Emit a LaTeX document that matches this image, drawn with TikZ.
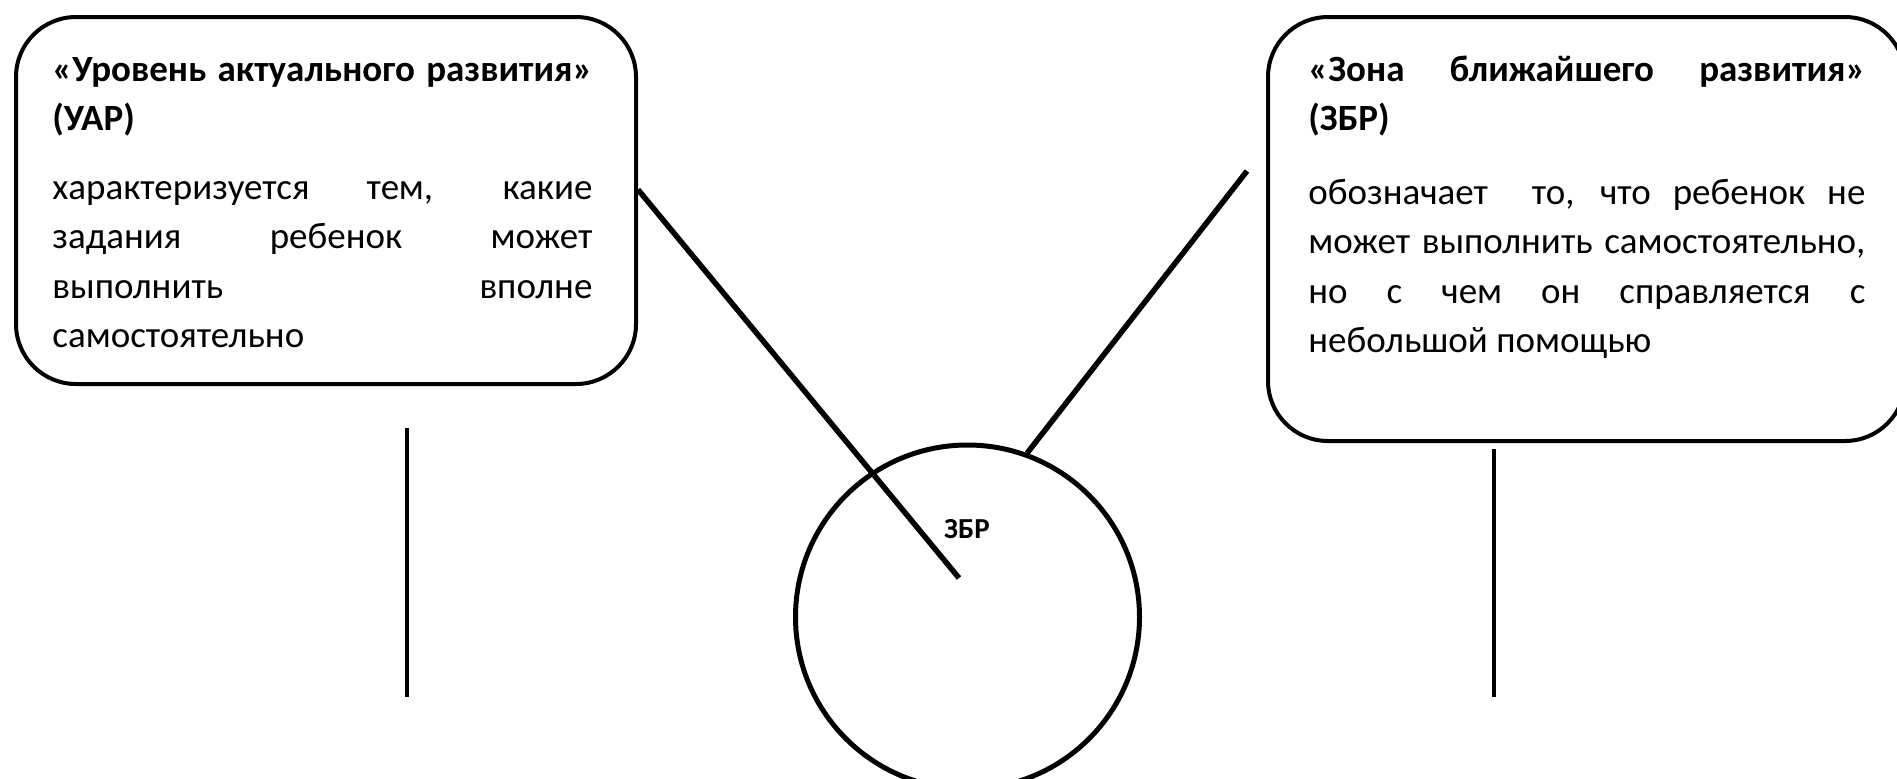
\documentclass[tikz,border=0pt]{standalone}
\usepackage{fontspec}
\setmainfont{Carlito}
\usepackage{tikz}
\tolerance=10000
\hbadness=10000
\hyphenpenalty=10000

\begin{document}
\begin{tikzpicture}[x=0.5pt,y=-0.5pt,
        box/.style = {draw, line width=2pt, rounded corners=30pt, anchor=north west, inner sep=0pt},
        txt/.style = {anchor=base west, inner sep=0pt, align=justify, font=\fontsize{18.5pt}{24.75pt}\selectfont},
        stick/.style = {line width=2pt},
        ray/.style = {line width=2.75pt}]
        \useasboundingbox (0,0) rectangle (1897,778);
        \node[box, minimum width=310pt, minimum height=183.5pt] (uarbox) at (14,15) {};
        \node[box, minimum width=318.5pt, minimum height=212pt] (zbrbox) at (1266,15) {};
        \node[txt, text width=270pt] (uartext) at (52,81) {\textbf{«Уровень актуального развития»\linebreak (УАР)}\par\vspace{9.5pt}характеризуется тем, какие\linebreak задания ребенок может\linebreak выполнить вполне\linebreak самостоятельно};
        \node[txt, text width=278.5pt] (zbrtext) at (1308,81) {\textbf{«Зона ближайшего развития»\linebreak (ЗБР)}\par\vspace{12pt}обозначает\ \ то, что ребенок не\linebreak может выполнить самостоятельно,\linebreak но с чем он справляется с\linebreak небольшой помощью};
        \node[draw, circle, line width=2.5pt, minimum size=172pt, inner sep=0pt] (zbr) at (967.5,617) {};
        \node[font=\bfseries\fontsize{14.5pt}{17pt}\selectfont, inner sep=0pt] (zbrlabel) at (967,529) {ЗБР};
        \coordinate (uarend) at (959,578);
        \coordinate (zbrtop) at (1247,171);
        \coordinate (uartop) at (407,428);
        \coordinate (uarbot) at (407,697);
        \coordinate (zbrstop) at (1494,449);
        \coordinate (zbrsbot) at (1494,697);
        \draw[ray] (uarbox.2) -- (uarend);
        \draw[ray] (zbrtop) -- (zbr.70);
        \draw[stick] (uartop) -- (uarbot);
        \draw[stick] (zbrstop) -- (zbrsbot);
\end{tikzpicture}
\end{document}
